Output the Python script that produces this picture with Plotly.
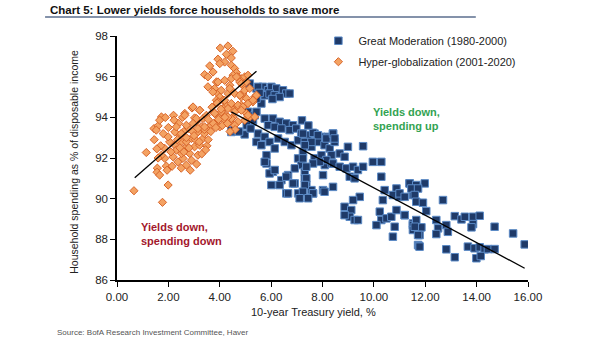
import plotly.graph_objects as go

# ---------------- data ----------------
gm_x = [5.10, 5.43, 5.68, 5.88, 6.01, 6.20, 6.46, 6.59, 5.75, 5.94, 6.14, 6.33, 5.62, 5.43, 6.72, 5.17, 5.49, 5.55, 6.05,
        5.10, 5.36, 5.29, 4.45, 4.97, 5.43, 5.29, 4.45,
        5.75, 6.07, 6.33, 6.59, 6.85, 5.88, 6.14, 6.40, 6.72, 6.98, 7.17, 7.43, 7.69, 7.95, 8.21, 8.41,
        5.49, 5.75, 5.43, 5.62, 5.94, 6.27, 6.53, 6.79, 7.05, 7.31, 7.57, 7.82, 8.08, 8.28, 8.47,
        6.14, 5.82, 5.82, 7.05, 7.24, 7.18, 6.92, 7.31, 7.69, 7.96, 8.09, 8.35,
        6.07, 6.01, 6.40, 6.66, 6.92, 6.59, 7.37, 7.31, 7.57, 8.02, 8.41,
        6.33, 6.59, 6.85, 7.05, 7.63, 6.66, 5.94, 6.14, 5.75,
        7.24, 7.63, 7.82, 8.15, 8.41, 8.47, 7.57, 7.31, 7.20, 7.45,
        8.99, 9.58, 8.67, 8.86, 8.35, 8.15, 7.89, 7.63, 7.37, 7.24,
        8.41, 8.67, 8.93, 9.19, 9.38, 9.58, 9.06, 9.25, 8.02, 7.37, 7.31, 7.24, 7.63, 7.44, 7.11, 8.08,
        9.96, 10.29, 10.29, 10.88, 10.42, 10.74, 10.35, 11.00, 11.52, 11.39, 11.65,
        9.45, 9.19, 8.86, 9.12, 9.06, 9.25, 9.38, 8.86,
        10.23, 10.29, 10.49, 10.68, 10.88, 10.81, 10.10, 10.74, 11.20, 11.52, 11.65, 11.72,
        11.39, 11.65, 11.98, 11.46, 11.72, 11.00, 11.20, 11.59, 11.65, 11.91, 12.04, 11.20, 12.69,
        11.52, 11.85, 11.52, 11.78, 12.43, 12.50, 12.43, 12.82, 12.88, 13.15, 13.41, 13.54, 13.86, 14.12, 13.86, 13.80, 14.70, 15.42, 15.87,
        11.76, 12.82, 13.15, 13.66, 13.92, 14.12, 14.31, 14.44, 14.70, 13.99, 14.16,
        11.65, 11.59, 11.72, 11.78, 5.05, 5.20, 4.75]
gm_y = [95.50, 95.42, 95.50, 95.33, 95.50, 95.42, 95.33, 95.17, 95.08, 95.17, 95.08, 95.00, 94.68, 94.92, 95.17, 95.66, 95.50, 95.20, 94.90,
        94.27, 94.10, 93.78, 93.28, 93.16, 94.27, 93.86, 93.37,
        93.94, 93.94, 93.78, 93.70, 93.61, 93.61, 93.53, 93.45, 93.37, 93.45, 93.20, 93.12, 93.20, 93.04, 93.04, 93.20,
        93.20, 93.04, 92.79, 92.63, 92.79, 92.96, 92.79, 92.63, 92.87, 92.79, 92.55, 92.79, 92.63, 92.47, 92.79,
        92.47, 92.14, 91.73, 91.98, 92.30, 91.65, 91.49, 91.32, 91.98, 92.14, 91.65, 91.73,
        91.32, 90.67, 90.91, 91.16, 90.75, 90.26, 90.67, 91.00, 90.42, 90.42, 90.58,
        90.67, 91.08, 90.75, 90.26, 90.26, 90.26, 91.24, 91.41, 91.81,
        93.20, 93.24, 93.12, 92.96, 93.20, 92.96, 92.79, 92.63, 93.85, 93.60,
        92.55, 92.58, 92.22, 92.06, 92.14, 91.90, 91.81, 91.73, 91.57, 91.98,
        91.73, 91.57, 91.49, 91.57, 91.41, 91.57, 91.08, 91.00, 91.16, 91.00, 90.67, 90.34, 90.26, 90.02, 90.02, 90.34,
        91.81, 91.81, 91.08, 90.50, 90.42, 90.18, 89.93, 90.09, 90.18, 90.75, 90.58,
        90.09, 89.93, 89.60, 89.44, 89.11, 88.95, 88.95, 89.19,
        89.36, 88.95, 89.03, 89.11, 89.44, 88.62, 88.70, 88.13, 89.19, 88.78, 88.62, 87.72,
        90.75, 90.67, 90.75, 90.50, 90.50, 90.26, 90.09, 90.18, 89.85, 89.80, 89.39, 89.19, 89.93,
        88.70, 88.59, 88.46, 88.21, 88.95, 88.54, 88.26, 88.70, 88.37, 89.14, 88.98, 89.11, 89.11, 89.16, 88.75, 88.59, 88.62, 88.29, 87.75,
        87.67, 87.51, 87.12, 87.64, 87.56, 87.61, 87.51, 87.52, 87.52, 87.07, 87.18,
        88.95, 88.62, 88.21, 87.64, 93.60, 93.45, 93.30]

hg_x = [0.66, 1.77, 1.99, 1.14, 1.57, 1.56, 1.66, 1.92,
        1.86, 2.05, 2.25, 2.44, 2.51, 2.64, 2.77, 2.90, 3.09, 3.15, 3.29, 2.18, 2.37, 2.57, 2.70, 2.83, 3.02, 3.22, 3.35,
        1.86, 1.73, 2.31, 2.51, 2.90, 3.15, 1.99, 2.25,
        1.70, 1.80, 2.00, 2.10, 2.35, 2.45, 2.60, 2.70, 2.95, 3.05, 3.40, 3.50, 3.55, 1.95, 2.15, 2.50, 2.85, 3.10, 3.30, 1.60, 2.55, 2.40, 2.20, 1.45, 1.55,
        1.44, 1.60, 1.53, 1.73, 1.88, 1.66, 2.22, 2.31, 2.64, 2.92, 3.02, 3.22,
        2.50, 2.70, 2.80, 3.00, 3.20, 3.40, 3.55, 2.60, 3.45,
        4.02, 4.32, 4.51, 4.45, 4.26, 4.19, 3.93, 4.00, 3.61, 3.74, 3.41, 3.54,
        4.45, 4.58, 4.65, 4.52, 4.71, 4.84, 4.97, 5.10, 4.78, 4.90,
        4.39, 4.45, 4.32, 3.87, 3.80, 3.93, 4.00, 3.87,
        4.84, 4.90, 5.04, 5.36, 5.29, 5.10, 4.84, 4.13, 4.26, 4.13, 4.45, 4.52, 4.71, 5.04, 5.17, 4.97,
        2.96, 3.22, 2.64, 3.09, 3.35, 3.48, 3.74, 3.87, 4.00, 4.13,
        2.70, 2.96, 3.15, 3.41, 3.67, 3.87, 4.00, 4.19, 4.39, 4.52,
        3.93, 4.19, 4.45, 4.65, 4.84, 5.04, 4.06, 4.39, 4.58, 4.78, 4.97, 5.17, 3.93, 4.19, 4.45, 4.71, 4.90, 5.10, 5.29, 5.43,
        4.06, 4.32, 4.58, 4.84, 5.10, 5.36, 4.45, 4.71, 4.58, 4.32,
        3.55, 3.65, 3.70, 3.75, 3.80, 3.85, 3.90, 3.95, 4.05, 4.10, 4.20, 4.30, 4.60, 4.40, 3.54, 3.73]
hg_y = [90.39, 89.82, 90.67, 92.27, 91.50, 91.30, 91.16, 91.60,
        92.47, 92.79, 92.63, 93.12, 92.79, 92.47, 93.45, 92.96, 93.78, 93.28, 93.53, 92.06, 91.81, 91.98, 91.65, 92.22, 92.55, 92.63, 92.96,
        91.98, 92.14, 92.39, 92.22, 91.89, 92.14, 93.04, 93.28,
        92.60, 93.20, 93.50, 92.30, 92.90, 92.50, 93.30, 92.80, 93.30, 92.90, 93.20, 92.60, 93.50, 91.40, 91.60, 91.50, 91.40, 91.70, 92.20, 92.00, 94.00, 93.70, 94.10, 92.90, 92.45,
        93.45, 93.58, 93.37, 94.02, 93.99, 93.86, 93.86, 93.53, 94.19, 94.46, 93.97, 94.35,
        93.20, 93.00, 92.50, 93.10, 92.80, 93.40, 92.90, 92.30, 92.40,
        97.41, 97.51, 97.25, 96.92, 97.10, 96.72, 96.86, 96.64, 96.53, 96.23, 96.10, 95.99,
        96.56, 96.40, 96.20, 96.07, 95.99, 95.90, 95.99, 96.07, 95.74, 95.58,
        95.58, 95.33, 95.17, 95.74, 95.42, 95.17, 95.00, 94.84,
        95.00, 95.17, 94.93, 95.00, 94.76, 94.68, 94.60, 94.84, 94.60, 94.43, 94.51, 94.35, 94.43, 94.19, 94.02, 93.86,
        94.51, 94.35, 94.10, 93.94, 93.94, 94.10, 94.27, 94.10, 94.02, 94.19,
        93.61, 93.70, 93.45, 93.53, 93.61, 93.78, 93.53, 93.86, 93.78, 94.02,
        95.74, 95.82, 95.90, 95.99, 95.66, 95.74, 95.33, 95.42, 95.17, 95.09, 95.33, 95.42, 94.76, 94.84, 94.68, 94.60, 94.51, 94.68, 94.84, 95.09,
        94.27, 94.43, 94.27, 94.35, 94.10, 94.02, 93.94, 93.78, 93.61, 94.02,
        93.90, 93.30, 94.50, 93.70, 94.20, 93.50, 94.70, 93.90, 94.40, 93.60, 94.00, 93.70, 93.40, 93.30, 95.50, 95.25]

gm_trend_x = [4.45, 15.87]
gm_trend_y = [94.27, 86.58]
hg_trend_x = [0.69, 5.43]
hg_trend_y = [91.03, 96.27]

x_ticks = [0, 2, 4, 6, 8, 10, 12, 14, 16]
y_ticks = [86, 88, 90, 92, 94, 96, 98]

FONT = "Liberation Sans, Arial, sans-serif"

fig = go.Figure()
fig.add_trace(go.Scatter(
    x=gm_x, y=gm_y, mode="markers", name="Great Moderation (1980-2000)",
    legendgroup="a",
    marker=dict(symbol="square", size=7.5, color="#1F3A68",
                line=dict(color="#5B8AC6", width=1))))
fig.add_trace(go.Scatter(
    x=hg_x, y=hg_y, mode="markers", name="Hyper-globalization (2001-2020)",
    legendgroup="b",
    marker=dict(symbol="diamond", size=6.3, color="#F4A262",
                line=dict(color="#D8652A", width=1))))
fig.add_trace(go.Scatter(x=hg_trend_x, y=hg_trend_y, mode="lines", showlegend=False,
                         line=dict(color="black", width=1.3), hoverinfo="skip"))
fig.add_trace(go.Scatter(x=gm_trend_x, y=gm_trend_y, mode="lines", showlegend=False,
                         line=dict(color="black", width=1.3), hoverinfo="skip"))

axis_common = dict(showgrid=False, zeroline=False, showline=True, linecolor="black",
                   linewidth=1.5, ticks="outside", ticklen=5, tickwidth=1.2, tickcolor="black",
                   tickfont=dict(family=FONT, size=11.5, color="#222222"))
fig.update_xaxes(range=[0, 16], tickvals=x_ticks, tickformat=".2f", **axis_common)
fig.update_yaxes(range=[86, 98], tickvals=y_ticks, **axis_common)

fig.update_layout(
    width=605, height=341,
    margin=dict(l=117, r=77, t=36, b=61),
    paper_bgcolor="white", plot_bgcolor="white",
    font=dict(family=FONT, color="#222222"),
    showlegend=True,
    legend=dict(x=0.49, y=1.04, xanchor="left", yanchor="top",
                bgcolor="rgba(0,0,0,0)", font=dict(family=FONT, size=11, color="#222222"),
                tracegroupgap=2, itemwidth=30),
    annotations=[
        dict(text="<b>Chart 5: Lower yields force households to save more</b>",
             xref="paper", yref="paper", x=-0.168, y=1.107, xanchor="left", yanchor="middle",
             showarrow=False, font=dict(family="Liberation Sans Narrow, " + FONT, size=11.5, color="#111111")),
        dict(text="Household spending as % of disposable income", textangle=-90,
             xref="paper", yref="paper", x=-0.105, y=0.484, xanchor="center", yanchor="middle",
             showarrow=False, font=dict(family=FONT, size=10.5, color="#222222")),
        dict(text="10-year Treasury yield, %", xref="paper", yref="paper", x=0.477, y=0,
             xanchor="center", yanchor="top", yshift=-24, showarrow=False,
             font=dict(family=FONT, size=11, color="#222222")),
        dict(text="Source: BofA Research Investment Committee, Haver", xref="paper", yref="paper",
             x=-0.151, y=-0.217, xanchor="left", yanchor="middle", showarrow=False,
             font=dict(family=FONT, size=8, color="#555555")),
        dict(text="<b>Yields down,<br>spending up</b>", xref="x", yref="y", x=9.88, y=93.93,
             xanchor="left", yanchor="middle", align="left", showarrow=False,
             font=dict(family=FONT, size=11, color="#33A352")),
        dict(text="<b>Yields down,<br>spending down</b>", xref="x", yref="y", x=0.845, y=88.28,
             xanchor="left", yanchor="middle", align="left", showarrow=False,
             font=dict(family=FONT, size=11, color="#A3172C")),
    ],
    shapes=[dict(type="line", xref="paper", yref="paper", x0=-0.175, x1=0.873, y0=1.078, y1=1.078,
                 line=dict(color="#5B6E8E", width=1.5))],
)

fig.write_html("out.html")
